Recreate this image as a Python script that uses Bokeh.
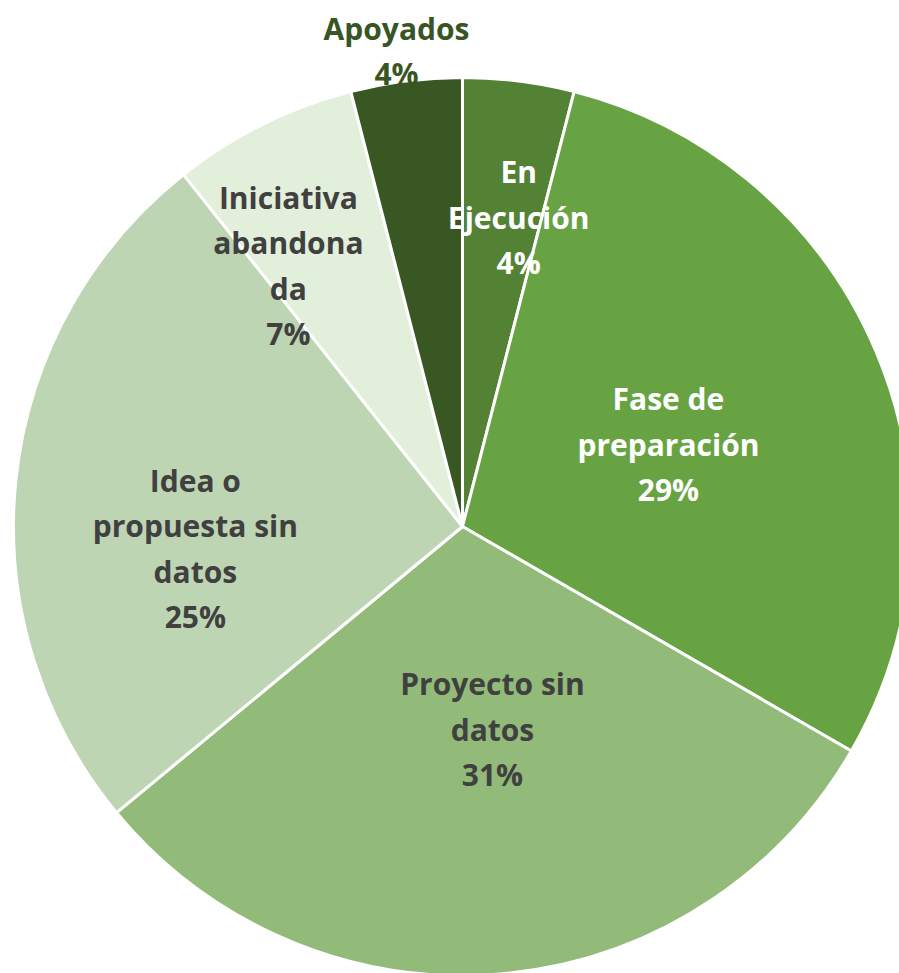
import math
from bokeh.plotting import figure
from bokeh.models import Range1d, ColumnDataSource
from bokeh.core.properties import value
from bokeh.embed import file_html
from bokeh.resources import INLINE

# ---- data ----
categories = ["En Ejecución", "Fase de preparación", "Proyecto sin datos",
              "Idea o propuesta sin datos", "Iniciativa abandonada", "Apoyados"]
counts = [3, 22, 23, 19, 5, 3]
label_lines = [["En", "Ejecución"], ["Fase de", "preparación"], ["Proyecto sin", "datos"],
               ["Idea o", "propuesta sin", "datos"], ["Iniciativa", "abandona", "da"], ["Apoyados"]]

# ---- style / layout ----
colors = ["#548235", "#68A343", "#92BB7A", "#BDD5B2", "#E2EFDA", "#385723"]
text_colors = ["#FFFFFF", "#FFFFFF", "#404040", "#404040", "#404040", "#375623"]
label_radius = [0.70, 0.494, 0.457, 0.597, 0.699, 1.069]
label_angle_shift = [-3.1, -1.0, 3.6, 10.7, 7.3, 0.7]   # degrees
W, H = 899, 973
CX, CY, R = 462, 447, 449   # centre (data units = pixels)
FONT = "Open Sans"
FS = 30
LINE = 45.5

total = float(sum(counts))
fracs = [c / total for c in counts]
starts, ends, mids = [], [], []
cum = 0.0
for f in fracs:
    a0 = math.pi / 2 - (cum + f) * 2 * math.pi
    a1 = math.pi / 2 - cum * 2 * math.pi
    starts.append(a0)
    ends.append(a1)
    mids.append((a0 + a1) / 2)
    cum += f

p = figure(width=W, height=H, x_range=Range1d(0, W), y_range=Range1d(0, H),
           output_backend="svg", toolbar_location=None, min_border=0)
p.axis.visible = False
p.grid.visible = False
p.outline_line_color = None
p.background_fill_color = "white"

src = ColumnDataSource(dict(x=[CX] * len(counts), y=[CY] * len(counts), start=starts, end=ends,
                            color=colors, cat=categories))
p.wedge(x="x", y="y", radius=R, start_angle="start", end_angle="end", fill_color="color",
        line_color="white", line_width=3, source=src)

tx, ty, tt, tc = [], [], [], []
for i, lines in enumerate(label_lines):
    pct = "%d%%" % round(fracs[i] * 100)
    allv = lines + [pct]
    ang = mids[i] + math.radians(label_angle_shift[i])
    lx = CX + label_radius[i] * R * math.cos(ang)
    ly = CY + label_radius[i] * R * math.sin(ang)
    n = len(allv)
    for k, s in enumerate(allv):
        tx.append(lx)
        ty.append(ly + (n - 1) / 2 * LINE - k * LINE)
        tt.append(s)
        tc.append(text_colors[i])

p.text(x="x", y="y", text="t", text_color="c",
       source=ColumnDataSource(dict(x=tx, y=ty, t=tt, c=tc)),
       text_font=value(FONT), text_font_style="bold", text_font_size="%dpx" % FS,
       text_align="center", text_baseline="middle")

open("out.html", "w").write(file_html(p, INLINE))
